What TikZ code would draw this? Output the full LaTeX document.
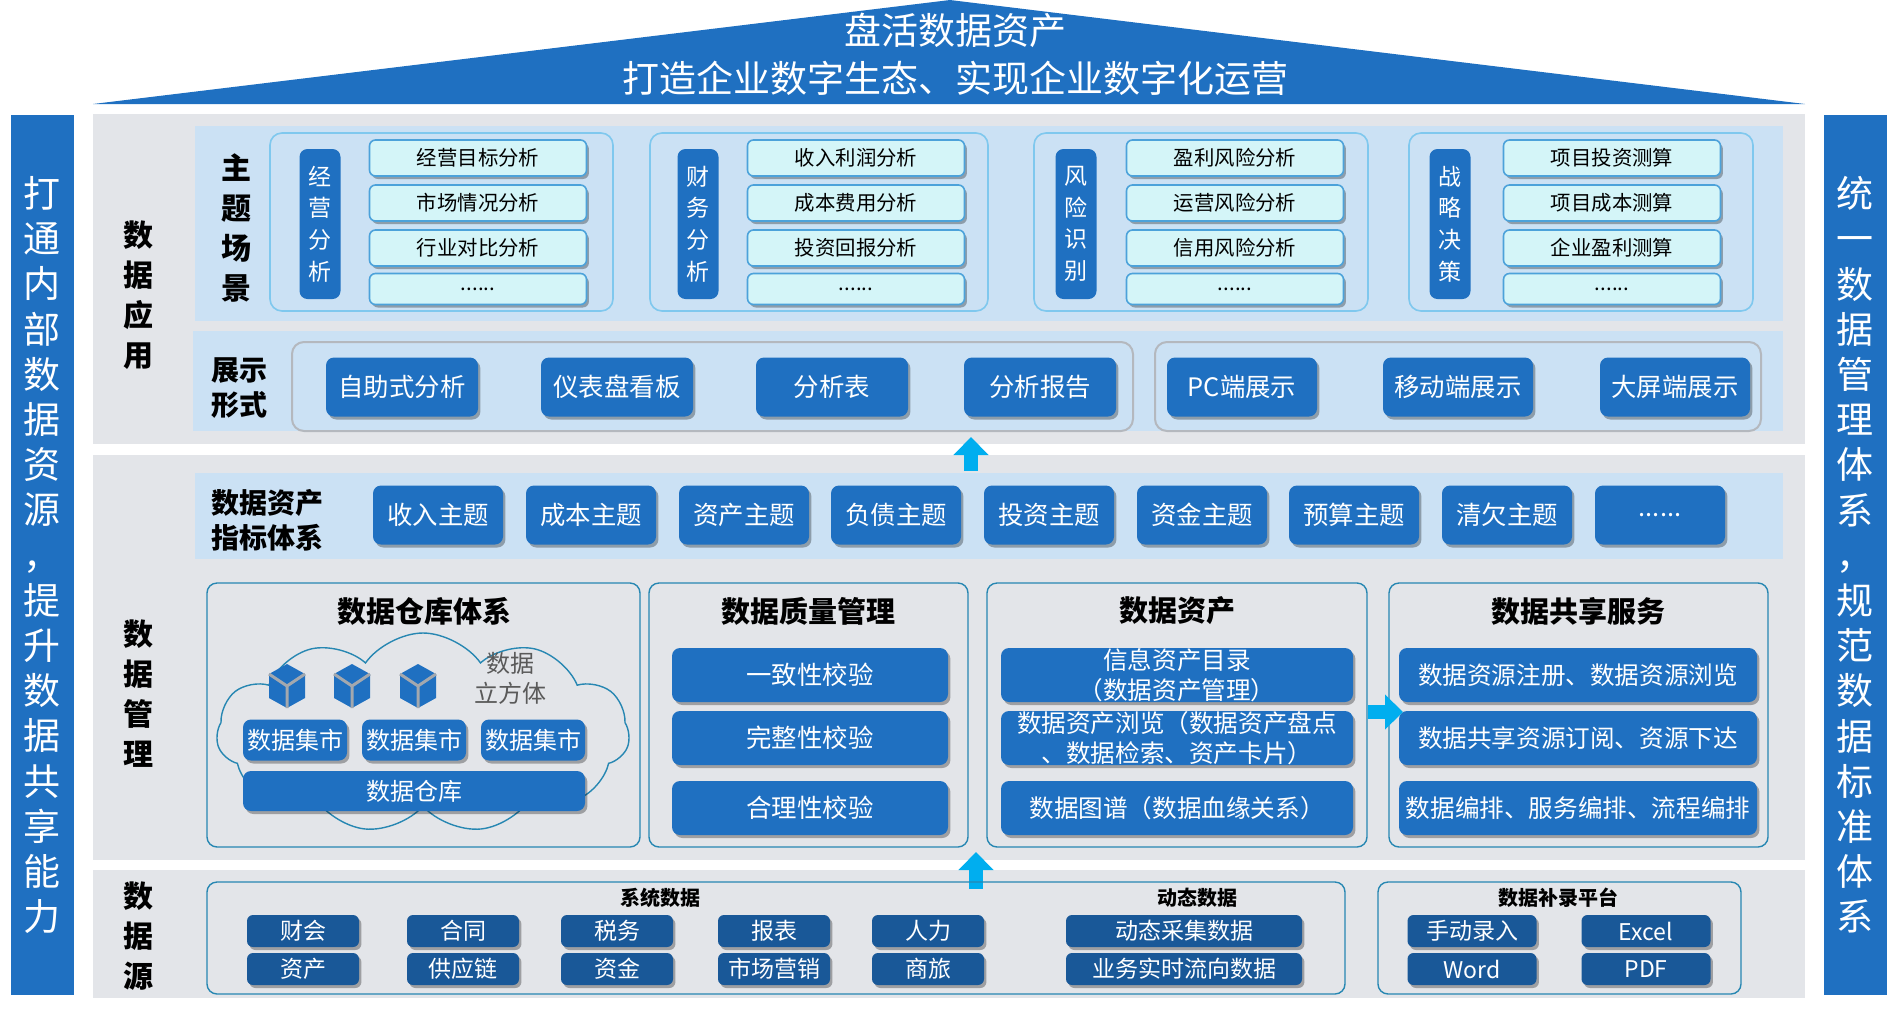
\documentclass[tikz,border=0pt]{standalone}
\usepackage{fontspec}
\setmainfont{Noto Sans CJK SC}
\usetikzlibrary{arrows.meta,shadows,shapes.symbols}

\definecolor{mainblue}{HTML}{1F70C1}
\definecolor{darkblue}{HTML}{195898}
\definecolor{panelgray}{HTML}{E3E5E9}
\definecolor{lightpanel}{HTML}{CBE1F4}
\definecolor{itemfill}{HTML}{D4F5F8}
\definecolor{itemline}{HTML}{4CA2DA}
\definecolor{groupline}{HTML}{7FC8EE}
\definecolor{secline}{HTML}{2787B2}
\definecolor{showline}{HTML}{B4B8BE}
\definecolor{arrowcyan}{HTML}{00AEEF}
\definecolor{cubeline}{HTML}{A3A8AE}
\definecolor{cubetext}{HTML}{5A5A5A}

\newcommand{\datacube}[2]{%
	\fill[mainblue] (#1,#2-22) -- (#1+18,#2-12) -- (#1+18,#2+12) -- (#1,#2+22) -- (#1-18,#2+12) -- (#1-18,#2-12) -- cycle;
	\draw[cubeline, line width=1.5pt] (#1-18,#2-12) -- (#1,#2) -- (#1+18,#2-12) (#1,#2) -- (#1,#2+22);}

\tikzset{
	wh/.style 2 args={minimum width=#1*0.5pt, minimum height=#2*0.5pt},
	dshadow/.style={drop shadow={shadow xshift=1.2pt, shadow yshift=-1.5pt, opacity=0.3, fill=black}},
	btn/.style={dshadow, fill=mainblue, text=white, rounded corners=4pt, inner sep=0pt, align=center, font=\fontsize{12.7}{15}\selectfont},
	srcbtn/.style={btn, fill=darkblue, rounded corners=3pt, font=\fontsize{11.5}{14}\selectfont},
	item/.style={dshadow, fill=itemfill, draw=itemline, line width=0.8pt, rounded corners=3pt, inner sep=0pt, font=\fontsize{10.2}{12}\selectfont},
	tag/.style={fill=mainblue, text=white, rounded corners=4pt, inner sep=0pt, align=center, font=\fontsize{11.5}{15.8}\selectfont},
	layer/.style={align=center, inner sep=0pt, font=\bfseries\fontsize{15}{20}\selectfont},
	sublayer/.style={align=center, inner sep=0pt, font=\bfseries\fontsize{14}{17.5}\selectfont},
	sectitle/.style={inner sep=0pt, font=\bfseries\fontsize{14.5}{17}\selectfont},
	srctitle/.style={inner sep=0pt, font=\bfseries\fontsize{10}{12}\selectfont},
	groupbox/.style={draw=groupline, line width=0.8pt, rounded corners=6pt},
	showbox/.style={draw=showline, line width=1pt, rounded corners=6pt},
	secbox/.style={draw=secline, line width=0.7pt, rounded corners=5pt},
	bigarrow/.style={draw=arrowcyan, line width=7pt, -{Triangle[width=17pt,length=9pt]}},
	sidetext/.style={text=white, align=center, inner sep=0pt, font=\fontsize{18.5}{22.6}\selectfont},
	slogan/.style={text=white, inner sep=0pt, font=\fontsize{18.5}{22}\selectfont}
}

\begin{document}
\begin{tikzpicture}[x=0.5pt, y=-0.5pt]
	\useasboundingbox (0,0) rectangle (1887,1014);
	\fill[mainblue] (93,104) -- (950,0) -- (1805,104) -- cycle;
	\node[slogan] (slogan1) at (955,30) {盘活数据资产};
	\node[slogan] (slogan2) at (955,78) {打造企业数字生态、实现企业数字化运营};

	\fill[mainblue] (11,115) rectangle (74,995);
	\fill[mainblue] (1824,115) rectangle (1887,995);
	\node[sidetext] (lefttext) at (42,555) {打\\通\\内\\部\\数\\据\\资\\源\\，\\提\\升\\数\\据\\共\\享\\能\\力};
	\node[sidetext] (righttext) at (1855,555) {统\\一\\数\\据\\管\\理\\体\\系\\，\\规\\范\\数\\据\\标\\准\\体\\系};

	\fill[panelgray] (93,114) rectangle (1805,444);
	\fill[panelgray] (93,455) rectangle (1805,860);
	\fill[panelgray] (93,870) rectangle (1805,998);
	\fill[lightpanel] (195,126) rectangle (1783,321);
	\fill[lightpanel] (193,331) rectangle (1783,431);
	\fill[lightpanel] (195,473) rectangle (1783,559);

	\node[layer] (appl) at (138,295) {数\\据\\应\\用};
	\node[layer] (mgmt) at (138,694) {数\\据\\管\\理};
	\node[layer] (source) at (138,936) {数\\据\\源};
	\node[layer] (scene) at (236,228) {主\\题\\场\\景};
	\node[sublayer] (display) at (239,388) {展示\\形式};
	\node[sublayer] (index) at (267,520) {数据资产\\指标体系};

	\draw[groupbox] (270,133) rectangle (613,311);
	\draw[groupbox] (650,133) rectangle (988,311);
	\draw[groupbox] (1034,133) rectangle (1368,311);
	\draw[groupbox] (1409,133) rectangle (1753,311);
	\node[tag, wh={41}{150}] (opera) at (320,224) {经\\营\\分\\析};
	\node[tag, wh={41}{150}] (finan) at (698,224) {财\\务\\分\\析};
	\node[tag, wh={41}{150}] (risk) at (1076,224) {风\\险\\识\\别};
	\node[tag, wh={41}{150}] (strat) at (1450,224) {战\\略\\决\\策};
	\node[item, wh={217}{36}] (opera1) at (478,158) {经营目标分析};
	\node[item, wh={217}{36}] (opera2) at (478,203) {市场情况分析};
	\node[item, wh={217}{36}] (opera3) at (478,248) {行业对比分析};
	\node[item, wh={217}{31}] (opera4) at (478,289) {......};
	\node[item, wh={217}{36}] (finan1) at (856,158) {收入利润分析};
	\node[item, wh={217}{36}] (finan2) at (856,203) {成本费用分析};
	\node[item, wh={217}{36}] (finan3) at (856,248) {投资回报分析};
	\node[item, wh={217}{31}] (finan4) at (856,289) {......};
	\node[item, wh={217}{36}] (risk1) at (1235,158) {盈利风险分析};
	\node[item, wh={217}{36}] (risk2) at (1235,203) {运营风险分析};
	\node[item, wh={217}{36}] (risk3) at (1235,248) {信用风险分析};
	\node[item, wh={217}{31}] (risk4) at (1235,289) {......};
	\node[item, wh={217}{36}] (strat1) at (1612,158) {项目投资测算};
	\node[item, wh={217}{36}] (strat2) at (1612,203) {项目成本测算};
	\node[item, wh={217}{36}] (strat3) at (1612,248) {企业盈利测算};
	\node[item, wh={217}{31}] (strat4) at (1612,289) {......};

	\draw[showbox] (292,342) rectangle (1133,431);
	\draw[showbox] (1155,342) rectangle (1761,431);
	\node[btn, wh={152}{59}] (selfana) at (402,387) {自助式分析};
	\node[btn, wh={152}{59}] (dashboard) at (617,387) {仪表盘看板};
	\node[btn, wh={152}{59}] (anatable) at (832,387) {分析表};
	\node[btn, wh={152}{59}] (anareport) at (1040,387) {分析报告};
	\node[btn, wh={150}{59}] (pcshow) at (1242,387) {PC端展示};
	\node[btn, wh={150}{59}] (mobshow) at (1458,387) {移动端展示};
	\node[btn, wh={150}{59}] (bigshow) at (1675,387) {大屏端展示};

	\coordinate (up1s) at (971,471);
	\coordinate (up1e) at (971,437);
	\draw[bigarrow] (up1s) -- (up1e);

	\node[btn, wh={130}{59}] (income) at (438,515) {收入主题};
	\node[btn, wh={130}{59}] (cost) at (591,515) {成本主题};
	\node[btn, wh={130}{59}] (asset) at (744,515) {资产主题};
	\node[btn, wh={130}{59}] (debt) at (896,515) {负债主题};
	\node[btn, wh={130}{59}] (invest) at (1049,515) {投资主题};
	\node[btn, wh={130}{59}] (fund) at (1202,515) {资金主题};
	\node[btn, wh={130}{59}] (budget) at (1354,515) {预算主题};
	\node[btn, wh={130}{59}] (arrear) at (1507,515) {清欠主题};
	\node[btn, wh={130}{59}] (moretopic) at (1660,515) {......};

	\draw[secbox] (207,583) rectangle (640,847);
	\draw[secbox] (649,583) rectangle (968,847);
	\draw[secbox] (987,583) rectangle (1367,847);
	\draw[secbox] (1389,583) rectangle (1768,847);
	\node[sectitle] (warehouse) at (424,611) {数据仓库体系};
	\node[sectitle] (quality) at (808,611) {数据质量管理};
	\node[sectitle] (dataasset) at (1177,611) {数据资产};
	\node[sectitle] (sharing) at (1578,611) {数据共享服务};

	\node[cloud, cloud puffs=11, cloud puff arc=110, cloud ignores aspect, draw=secline, line width=0.7pt, wh={413}{200}] (cloudbg) at (423,733) {};
	\datacube{287}{686}
	\datacube{352}{686}
	\datacube{418}{686}
	\node[align=center, inner sep=0pt, text=cubetext, font=\fontsize{12}{15}\selectfont] (cubetxt) at (510,678) {数据\\立方体};
	\node[btn, wh={104}{41}, font=\fontsize{12}{14}\selectfont] (mart1) at (295,740) {数据集市};
	\node[btn, wh={104}{41}, font=\fontsize{12}{14}\selectfont] (mart2) at (414,740) {数据集市};
	\node[btn, wh={104}{41}, font=\fontsize{12}{14}\selectfont] (mart3) at (533,740) {数据集市};
	\node[btn, wh={342}{40}, font=\fontsize{12}{14}\selectfont] (dw) at (414,791) {数据仓库};

	\node[btn, wh={276}{54}] (consist) at (810,675) {一致性校验};
	\node[btn, wh={276}{54}] (complete) at (810,738) {完整性校验};
	\node[btn, wh={276}{54}] (reason) at (810,808) {合理性校验};

	\node[btn, wh={352}{54}, font=\fontsize{12.3}{15}\selectfont] (catalog) at (1177,675) {信息资产目录\\（数据资产管理）};
	\node[btn, wh={352}{54}, font=\fontsize{12.3}{15}\selectfont] (browse) at (1177,738) {数据资产浏览（数据资产盘点\\、数据检索、资产卡片）};
	\node[btn, wh={352}{54}, font=\fontsize{12.3}{15}\selectfont] (lineage) at (1177,808) {数据图谱（数据血缘关系）};

	\node[btn, wh={358}{54}, font=\fontsize{12.3}{15}\selectfont] (register) at (1578,675) {数据资源注册、数据资源浏览};
	\node[btn, wh={358}{54}, font=\fontsize{12.3}{15}\selectfont] (subscribe) at (1578,738) {数据共享资源订阅、资源下达};
	\node[btn, wh={358}{54}, font=\fontsize{12.3}{15}\selectfont] (arrange) at (1578,808) {数据编排、服务编排、流程编排};

	\coordinate (rights) at (1368,712);
	\coordinate (righte) at (1403,712);
	\draw[bigarrow] (rights) -- (righte);

	\coordinate (up2s) at (976,889);
	\coordinate (up2e) at (976,852);
	\draw[bigarrow] (up2s) -- (up2e);

	\draw[secbox] (207,882) rectangle (1345,994);
	\draw[secbox] (1378,882) rectangle (1741,994);
	\node[srctitle] (sysdata) at (660,898) {系统数据};
	\node[srctitle] (dyndata) at (1197,898) {动态数据};
	\node[srctitle] (supdata) at (1558,898) {数据补录平台};
	\node[srcbtn, wh={112}{32}] (acct) at (303,931) {财会};
	\node[srcbtn, wh={112}{32}] (assets) at (303,969) {资产};
	\node[srcbtn, wh={112}{32}] (contract) at (463,931) {合同};
	\node[srcbtn, wh={112}{32}] (supply) at (463,969) {供应链};
	\node[srcbtn, wh={112}{32}] (tax) at (617,931) {税务};
	\node[srcbtn, wh={112}{32}] (funds) at (617,969) {资金};
	\node[srcbtn, wh={112}{32}] (report) at (774,931) {报表};
	\node[srcbtn, wh={112}{32}] (market) at (774,969) {市场营销};
	\node[srcbtn, wh={112}{32}] (hr) at (928,931) {人力};
	\node[srcbtn, wh={112}{32}] (travel) at (928,969) {商旅};
	\node[srcbtn, wh={236}{32}] (collect) at (1184,931) {动态采集数据};
	\node[srcbtn, wh={236}{32}] (flow) at (1184,969) {业务实时流向数据};
	\node[srcbtn, wh={129}{32}] (manual) at (1472,931) {手动录入};
	\node[srcbtn, wh={129}{32}] (word) at (1472,969) {Word};
	\node[srcbtn, wh={129}{32}] (excel) at (1646,931) {Excel};
	\node[srcbtn, wh={129}{32}] (pdf) at (1646,969) {PDF};
\end{tikzpicture}
\end{document}
